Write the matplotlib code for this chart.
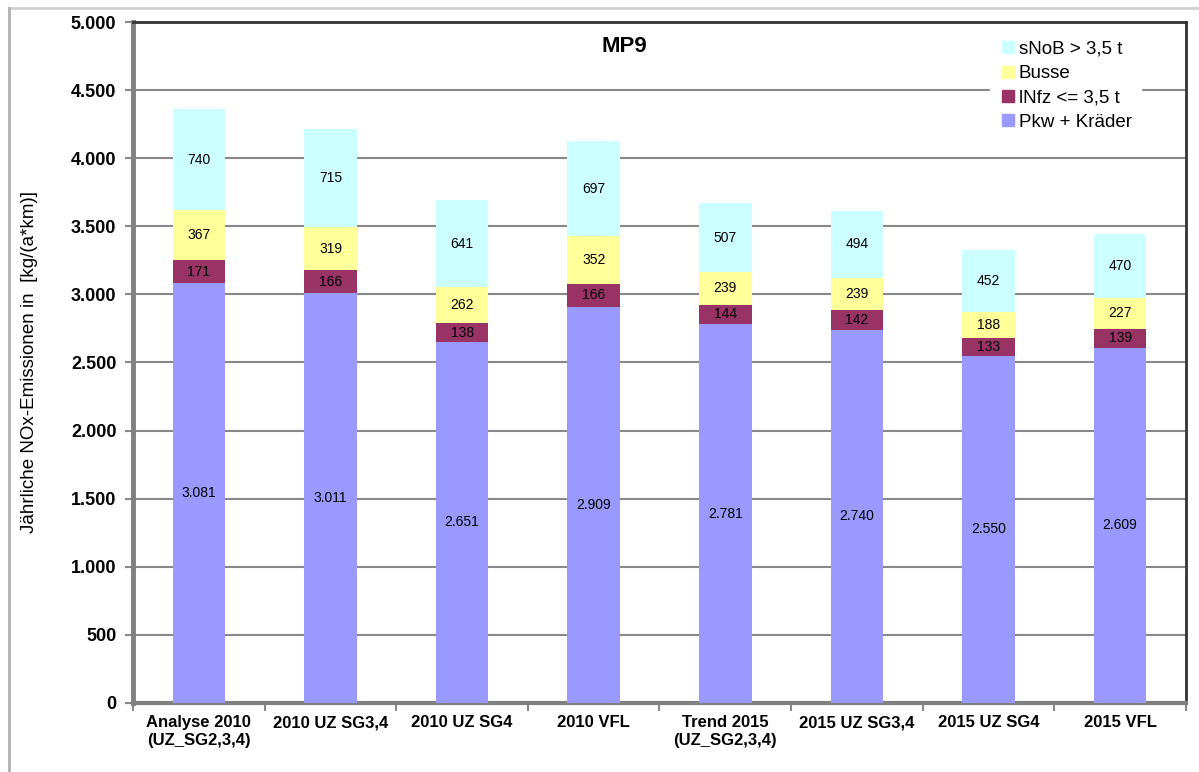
import matplotlib.pyplot as plt
import numpy as np
from matplotlib.lines import Line2D
from matplotlib.ticker import FuncFormatter

plt.rcParams["font.family"] = ["Liberation Sans", "DejaVu Sans"]

# Daten
kategorien = ["Analyse 2010\n(UZ_SG2,3,4)", "2010 UZ SG3,4", "2010 UZ SG4", "2010 VFL",
              "Trend 2015\n(UZ_SG2,3,4)", "2015 UZ SG3,4", "2015 UZ SG4", "2015 VFL"]
pkw = [3081, 3011, 2651, 2909, 2781, 2740, 2550, 2609]
lnfz = [171, 166, 138, 166, 144, 142, 133, 139]
busse = [367, 319, 262, 352, 239, 239, 188, 227]
snob = [740, 715, 641, 697, 507, 494, 452, 470]

serien = [
    ("Pkw + Kräder", pkw, "#9999FF"),
    ("lNfz <= 3,5 t", lnfz, "#993366"),
    ("Busse", busse, "#FFFF99"),
    ("sNoB > 3,5 t", snob, "#CCFFFF"),
]


def tausender(v, pos=None):
    return f"{int(v):,}".replace(",", ".")


fig = plt.figure(figsize=(11.99, 7.72), dpi=100)
ax = fig.add_axes([0.111, 0.0894, 0.878, 0.8821])

x = np.arange(len(kategorien))
unten = np.zeros(len(kategorien))
handles = []
for name, werte, farbe in serien:
    werte = np.array(werte)
    ax.bar(x, werte, 0.40, bottom=unten, color=farbe, zorder=3)
    for xi, b, w in zip(x, unten, werte):
        ax.text(xi, b + w / 2, tausender(w), ha="center", va="center",
                fontsize=10, color="black", zorder=4)
    unten += werte
    handles.append((name, farbe))

ax.set_xlim(-0.5, len(kategorien) - 0.5)
ax.set_ylim(0, 5000)
ax.set_yticks(np.arange(0, 5001, 500))
ax.yaxis.set_major_formatter(FuncFormatter(tausender))
ax.grid(axis="y", color="#888888", linewidth=1.5, zorder=1)

ax.set_xticks(x)
ax.set_xticklabels(kategorien, fontsize=12, fontweight="bold", linespacing=1.2)
ax.set_xticks(np.arange(-0.5, len(kategorien)), minor=True)
ax.tick_params(axis="x", which="major", length=0, pad=9)
ax.tick_params(axis="x", which="minor", length=6, width=1.5, color="#888888")
ax.tick_params(axis="y", length=6, width=1.5, color="#888888", labelsize=13, pad=6)
for t in ax.get_yticklabels():
    t.set_fontweight("bold")

ax.spines["left"].set_color("#808080")
ax.spines["left"].set_linewidth(3.5)
ax.spines["bottom"].set_color("#808080")
ax.spines["bottom"].set_linewidth(3)
ax.spines["top"].set_color("#333333")
ax.spines["top"].set_linewidth(2)
ax.spines["right"].set_color("#333333")
ax.spines["right"].set_linewidth(2)

ax.set_ylabel("Jährliche NOx-Emissionen in  [kg/(a*km)]", fontsize=13.5)
ax.yaxis.set_label_coords(-0.09, 0.5)

ax.text(0.467, 0.98, "MP9", transform=ax.transAxes, ha="center", va="top",
        fontsize=16, fontweight="bold")

# Legende (umgekehrte Reihenfolge)
leg_handles = [Line2D([], [], marker="s", linestyle="none", markersize=8,
                      markerfacecolor=f, markeredgecolor=f) for _, f in handles[::-1]]
leg = ax.legend(leg_handles, [n for n, _ in handles[::-1]], loc="upper left",
                bbox_to_anchor=(0.805, 1.0), frameon=True, fontsize=13.5,
                handletextpad=0.15, handlelength=0.9, labelspacing=0.38,
                borderpad=0.5)
leg.get_frame().set_edgecolor("white")
leg.get_frame().set_facecolor("white")
leg.get_frame().set_alpha(1)
leg.set_zorder(5)

# Rahmen des Diagrammbereichs
fig.add_artist(Line2D([9 / 1199, 1], [1 - 8 / 772, 1 - 8 / 772], color="#d0d0d0", linewidth=2))
fig.add_artist(Line2D([9 / 1199, 9 / 1199], [0, 1 - 8 / 772], color="#b0b0b0", linewidth=2))

fig.savefig("out.png", dpi=100)
